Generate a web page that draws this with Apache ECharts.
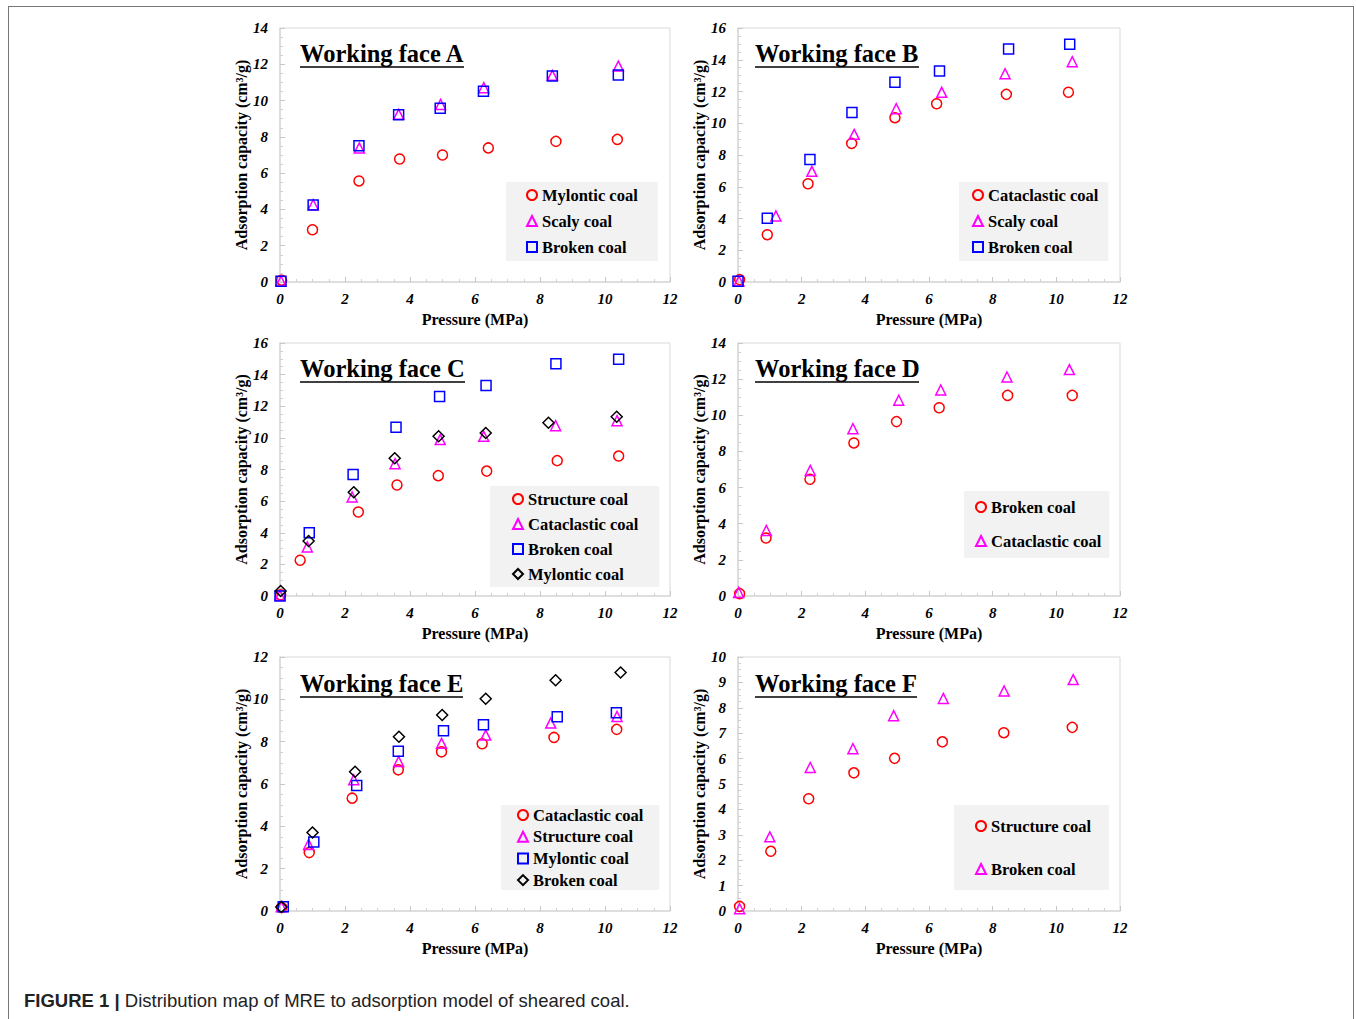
<!DOCTYPE html>
<html>
<head>
<meta charset="utf-8">
<script src="https://cdn.jsdelivr.net/npm/echarts@6/dist/echarts.min.js"></script>
<style>
  html, body { margin: 0; padding: 0; background: #fff; }
  #wrap { position: relative; width: 1356px; height: 1019px; overflow: hidden; background: #fff; }
  #frame { position: absolute; left: 8px; top: 6px; width: 1344px; height: 1030px;
           border-top: 1.5px solid #777; border-left: 1.5px solid #777; border-right: 1.5px solid #777; }
  #chart { position: absolute; left: 0; top: 0; width: 1356px; height: 1019px; }
  #caption { position: absolute; left: 24px; top: 990px; font-family: "Liberation Sans", Arial, sans-serif;
             font-size: 18.5px; color: #222; white-space: nowrap; }
  #caption b { font-weight: bold; }
</style>
</head>
<body>
<div id="wrap">
  <div id="frame"></div>
  <div id="chart"></div>
  <div id="caption"><b>FIGURE 1 |</b> Distribution map of MRE to adsorption model of sheared coal.</div>
</div>
<script>
// ---------------- DATA ----------------
const panelTitles = ['Working face A', 'Working face B', 'Working face C', 'Working face D', 'Working face E', 'Working face F'];
const yMaxes = [14, 16, 16, 14, 12, 10];
const yIntervals = [2, 2, 2, 2, 2, 1];
const xMax = 12;
const xInterval = 2;
const xAxisName = 'Pressure (MPa)';
const yAxisName = 'Adsorption capacity (cm³/g)';

// Working face A
const faceA_mylontic = [[0.05,0.10],[1.00,2.88],[2.43,5.57],[3.68,6.78],[5.00,7.00],[6.41,7.39],[8.49,7.75],[10.38,7.86]];
const faceA_scaly    = [[0.03,0.05],[1.02,4.26],[2.44,7.39],[3.65,9.24],[4.94,9.79],[6.27,10.71],[8.38,11.39],[10.41,11.90]];
const faceA_broken   = [[0.03,0.04],[1.02,4.24],[2.43,7.51],[3.65,9.22],[4.93,9.57],[6.26,10.51],[8.38,11.35],[10.41,11.41]];
// Working face B
const faceB_cataclastic = [[0.05,0.15],[0.92,2.98],[2.20,6.19],[3.57,8.73],[4.93,10.35],[6.24,11.23],[8.43,11.82],[10.38,11.95]];
const faceB_scaly       = [[0.03,0.06],[1.19,4.16],[2.32,6.97],[3.65,9.30],[4.97,10.92],[6.40,11.95],[8.39,13.12],[10.50,13.88]];
const faceB_broken      = [[0.00,0.04],[0.92,4.01],[2.26,7.71],[3.58,10.67],[4.93,12.58],[6.33,13.29],[8.50,14.68],[10.42,14.97]];
// Working face C
const faceC_structure   = [[0.02,0.08],[0.62,2.26],[2.41,5.31],[3.60,7.02],[4.87,7.61],[6.36,7.90],[8.53,8.56],[10.42,8.85]];
const faceC_cataclastic = [[0.00,0.04],[0.84,3.10],[2.22,6.26],[3.54,8.37],[4.93,9.89],[6.27,10.10],[8.48,10.77],[10.37,11.09]];
const faceC_broken      = [[0.00,0.00],[0.90,4.00],[2.25,7.69],[3.57,10.67],[4.91,12.61],[6.34,13.32],[8.49,14.69],[10.42,14.97]];
const faceC_mylontic    = [[0.02,0.32],[0.88,3.48],[2.27,6.56],[3.53,8.71],[4.88,10.10],[6.33,10.31],[8.26,10.96],[10.36,11.34]];
// Working face D
const faceD_broken      = [[0.05,0.13],[0.88,3.21],[2.26,6.46],[3.64,8.47],[4.98,9.65],[6.32,10.42],[8.47,11.10],[10.50,11.10]];
const faceD_cataclastic = [[0.02,0.20],[0.89,3.63],[2.27,6.95],[3.61,9.26],[5.05,10.83],[6.37,11.40],[8.45,12.12],[10.41,12.53]];
// Working face E
const faceE_cataclastic = [[0.05,0.17],[0.90,2.76],[2.22,5.33],[3.64,6.67],[4.97,7.52],[6.22,7.90],[8.43,8.20],[10.36,8.58]];
const faceE_structure   = [[0.04,0.20],[0.88,3.14],[2.27,6.20],[3.65,7.06],[4.97,7.92],[6.33,8.31],[8.33,8.88],[10.37,9.19]];
const faceE_mylontic    = [[0.10,0.20],[1.04,3.26],[2.36,5.93],[3.64,7.55],[5.03,8.51],[6.26,8.80],[8.53,9.18],[10.35,9.37]];
const faceE_broken      = [[0.04,0.19],[1.00,3.71],[2.31,6.58],[3.66,8.23],[4.99,9.26],[6.33,10.03],[8.48,10.90],[10.48,11.27]];
// Working face F
const faceF_structure = [[0.05,0.18],[1.03,2.35],[2.22,4.42],[3.64,5.44],[4.92,6.01],[6.42,6.66],[8.35,7.02],[10.50,7.23]];
const faceF_broken    = [[0.05,0.09],[1.00,2.92],[2.27,5.65],[3.61,6.39],[4.89,7.69],[6.45,8.37],[8.36,8.66],[10.53,9.11]];

// series per panel: [legend name, marker kind, data]
const panelSeries = [
  [['Mylontic coal','circle',faceA_mylontic],['Scaly coal','triangle',faceA_scaly],['Broken coal','square',faceA_broken]],
  [['Cataclastic coal','circle',faceB_cataclastic],['Scaly coal','triangle',faceB_scaly],['Broken coal','square',faceB_broken]],
  [['Structure coal','circle',faceC_structure],['Cataclastic coal','triangle',faceC_cataclastic],['Broken coal','square',faceC_broken],['Mylontic coal','diamond',faceC_mylontic]],
  [['Broken coal','circle',faceD_broken],['Cataclastic coal','triangle',faceD_cataclastic]],
  [['Cataclastic coal','circle',faceE_cataclastic],['Structure coal','triangle',faceE_structure],['Mylontic coal','square',faceE_mylontic],['Broken coal','diamond',faceE_broken]],
  [['Structure coal','circle',faceF_structure],['Broken coal','triangle',faceF_broken]]
];

// ---------------- STYLE / LAYOUT ----------------
const SERIF = '"Liberation Serif", "Times New Roman", serif';
const markerStyle = {
  circle:   { symbol: 'circle',   color: '#ff0000', size: 10 },
  triangle: { symbol: 'triangle', color: '#ff00ff', size: 10 },
  square:   { symbol: 'rect',     color: '#0000ff', size: 10 },
  diamond:  { symbol: 'diamond',  color: '#000000', size: 11 }
};
const grids = [
  { left: 280, top: 28,  width: 390, height: 254 },
  { left: 738, top: 28,  width: 382, height: 254 },
  { left: 280, top: 343, width: 390, height: 253 },
  { left: 738, top: 343, width: 382, height: 253 },
  { left: 280, top: 657, width: 390, height: 254 },
  { left: 738, top: 657, width: 382, height: 254 }
];
const legendBoxes = [
  { left: 506, top: 182, padding: [4, 20, 5, 20], gap: 8 },
  { left: 959, top: 182, padding: [4, 10, 5, 13], gap: 8 },
  { left: 490, top: 486, padding: [4, 21, 4, 22], gap: 7 },
  { left: 964, top: 491, padding: [7, 8, 8, 11], gap: 16 },
  { left: 501, top: 805, padding: [1, 16, 1, 16], gap: 3.7 },
  { left: 954, top: 805, padding: [12, 18, 12, 21], gap: 25 }
];
const titlePos = [
  { x: 300, y: 55, ux1: 300, ux2: 464 },
  { x: 755, y: 55, ux1: 755, ux2: 919 },
  { x: 300, y: 370, ux1: 300, ux2: 465 },
  { x: 755, y: 370, ux1: 755, ux2: 919 },
  { x: 300, y: 685, ux1: 300, ux2: 463 },
  { x: 755, y: 685, ux1: 755, ux2: 917 }
];
const letters = ['A','B','C','D','E','F'];
const axisGray = '#d9d9d9';

const option = {
  backgroundColor: 'transparent',
  animation: false,
  grid: grids.map(g => Object.assign({ show: true, borderColor: axisGray, borderWidth: 1, backgroundColor: 'transparent' }, g)),
  xAxis: grids.map((g, i) => ({
    type: 'value', gridIndex: i, min: 0, max: xMax, interval: xInterval,
    name: xAxisName, nameLocation: 'middle', nameGap: 29,
    nameTextStyle: { fontFamily: SERIF, fontWeight: 'bold', fontSize: 16, color: '#000' },
    axisLine: { show: true, lineStyle: { color: axisGray, width: 1.5 } },
    axisTick: { show: true, inside: true, length: 5, lineStyle: { color: '#c8c8c8' } },
    minorTick: { show: true, splitNumber: 4, length: 3, lineStyle: { color: '#d0d0d0' } },
    splitLine: { show: false },
    axisLabel: { fontFamily: SERIF, fontWeight: 'bold', fontStyle: 'italic', fontSize: 15, color: '#000', margin: 9 }
  })),
  yAxis: grids.map((g, i) => ({
    type: 'value', gridIndex: i, min: 0, max: yMaxes[i], interval: yIntervals[i],
    name: yAxisName, nameLocation: 'middle', nameGap: 31, nameRotate: 90,
    nameTextStyle: { fontFamily: SERIF, fontWeight: 'bold', fontSize: 16, color: '#000' },
    axisLine: { show: true, lineStyle: { color: axisGray, width: 1.5 } },
    axisTick: { show: true, inside: true, length: 5, lineStyle: { color: '#c8c8c8' } },
    minorTick: { show: true, splitNumber: 4, length: 3, lineStyle: { color: '#d0d0d0' } },
    splitLine: { show: false },
    axisLabel: { fontFamily: SERIF, fontWeight: 'bold', fontStyle: 'italic', fontSize: 15, color: '#000', margin: 12 }
  })),
  legend: panelSeries.map((list, i) => ({
    left: legendBoxes[i].left, top: legendBoxes[i].top, orient: 'vertical',
    padding: legendBoxes[i].padding, itemGap: legendBoxes[i].gap,
    backgroundColor: '#f2f2f2', itemWidth: 10, itemHeight: 10,
    selectedMode: false,
    data: list.map(s => letters[i] + '|' + s[0]),
    formatter: n => n.split('|')[1],
    textStyle: { fontFamily: SERIF, fontWeight: 'bold', fontSize: 16.5, color: '#000', lineHeight: 18 }
  })),
  series: [],
  graphic: []
};

panelSeries.forEach((list, i) => {
  list.forEach(s => {
    const m = markerStyle[s[1]];
    option.series.push({
      type: 'scatter', name: letters[i] + '|' + s[0],
      xAxisIndex: i, yAxisIndex: i,
      symbol: m.symbol, symbolSize: m.size,
      itemStyle: { color: 'rgba(255,255,255,0)', borderColor: m.color, borderWidth: 1.5, opacity: 1 },
      emphasis: { disabled: true },
      data: s[2]
    });
  });
  const t = titlePos[i];
  option.graphic.push({
    type: 'text', left: t.x, top: t.y - 14, z: 100,
    style: { text: panelTitles[i], fill: '#000', font: 'bold 24.5px ' + SERIF }
  });
  option.graphic.push({
    type: 'line', z: 100,
    shape: { x1: t.ux1, y1: 67 + (t.y - 55), x2: t.ux2, y2: 67 + (t.y - 55) },
    style: { stroke: '#000', lineWidth: 1.5 }
  });
});

const chart = echarts.init(document.getElementById('chart'), null, { renderer: 'svg', width: 1356, height: 1019 });
chart.setOption(option);
</script>
</body>
</html>
